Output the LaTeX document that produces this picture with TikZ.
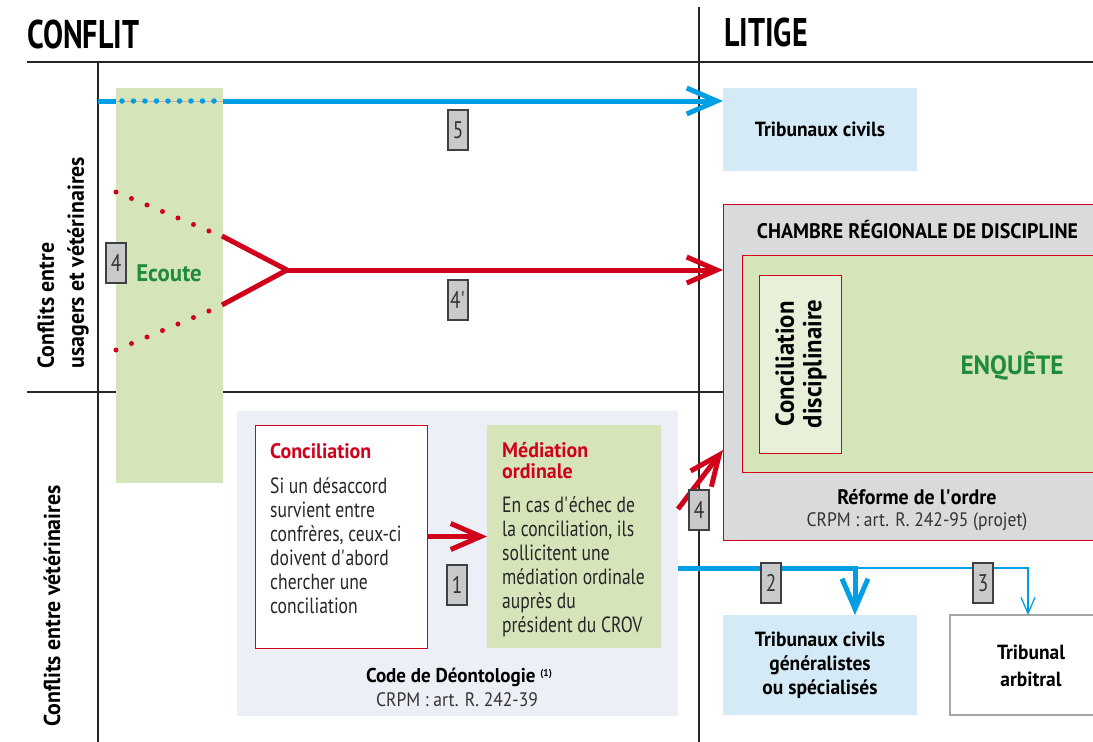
\documentclass[tikz,border=0pt]{standalone}
\usepackage{fontspec}
\setmainfont{PT Sans}[FakeStretch=0.8]
\newfontfamily\headfont{PT Sans}[FakeStretch=0.75]
\newfontfamily\bfam{PT Sans}[FakeStretch=0.95]
\newfontfamily\crpmfont{PT Sans}[FakeStretch=0.9]
\usetikzlibrary{arrows.meta}
\definecolor{cred}{HTML}{D0021B}
\definecolor{cblue}{HTML}{009FE3}
\definecolor{cgreen}{HTML}{D6E4BA}
\definecolor{lgreen}{HTML}{E9F0DA}
\definecolor{tgreen}{HTML}{1E8C3A}
\definecolor{lblue}{HTML}{D4EAF7}
\definecolor{cgray}{HTML}{D9DADC}
\definecolor{bgray}{HTML}{ECEFF6}
\definecolor{ngray}{HTML}{C8C9CB}
\definecolor{salmon}{HTML}{E6A58C}
\tikzset{
  rule/.style={line width=1.6pt, draw=black!85},
  boxx/.style={inner sep=0pt, outer sep=0pt},
  numbox/.style={draw=black!75, line width=1.2pt, fill=ngray, minimum width=20pt, minimum height=40pt, inner sep=0pt, font=\fontsize{24}{24}\selectfont, text=black!80},
  redarr/.style={draw=cred, line width=5pt, -{Straight Barb[length=30pt,width=26pt]}},
  redline/.style={draw=cred, line width=5pt, miter limit=20},
  bluearr/.style={draw=cblue, line width=5pt, -{Straight Barb[length=30pt,width=26pt]}},
  thinblue/.style={draw=cblue, line width=1.3pt, -{Straight Barb[length=16pt,width=14pt]}},
  reddots/.style={draw=cred, line width=5pt, line cap=round, dash pattern=on 0pt off 16.8pt},
  bluedots/.style={draw=cblue, line width=5.5pt, line cap=round, dash pattern=on 0pt off 11.5pt},
  headtxt/.style={font=\headfont\fontsize{40}{40}\selectfont\bfseries},
  sidetxt/.style={font=\bfam\fontsize{23}{30}\selectfont\bfseries, rotate=90},
  btxt/.style={font=\bfam\fontsize{20.5}{24}\selectfont\bfseries, align=center},
  bodytxt/.style={font=\fontsize{22}{24}\selectfont, align=left, text=black!85, inner sep=0pt},
  rtitle/.style={font=\bfam\fontsize{21}{21}\selectfont\bfseries, text=cred, inner sep=0pt},
  crpm/.style={font=\crpmfont\fontsize{19.5}{19.5}\selectfont, text=black!80},
}
\begin{document}
\begin{tikzpicture}[x=1pt,y=-1pt]
\useasboundingbox (0,0) rectangle (1093,742);
\fill[white] (0,0) rectangle (1093,742);

% headers
\node[headtxt, anchor=base west, inner sep=0pt] (conflit) at (27,48) {CONFLIT};
\node[headtxt, anchor=base west, inner sep=0pt] (litige) at (724,46) {LITIGE};

% grid lines
\draw[rule] (27,62) -- (1093,62);
\draw[rule] (98,62) -- (98,742);
\draw[rule] (699,7) -- (699,742);
\draw[rule] (27,392) -- (1093,392);

% side labels
\node[sidetxt, anchor=west, align=left] (side1) at (63,372) {Conflits entre\\usagers et vétérinaires};
\node[sidetxt] (side2) at (52,606) {Conflits entre vétérinaires};

% green column
\node[boxx, fill=cgreen, minimum width=107pt, minimum height=395pt] (col) at (169.5,285.5) {};
\node[font=\bfam\fontsize{24}{24}\selectfont\bfseries, text=tgreen] (ecoute) at (169,273) {Ecoute};

% right boxes
\node[boxx, fill=lblue, minimum width=194pt, minimum height=83pt] (trib1) at (820,129.5) {};
\node[btxt] at (trib1) {Tribunaux civils};

\node[boxx, fill=cgray, draw=cred, line width=1pt, minimum width=372pt, minimum height=336pt] (chambre) at (909,372) {};
\node[font=\bfam\fontsize{21}{21}\selectfont\bfseries] (chtitle) at (917.5,230) {CHAMBRE RÉGIONALE DE DISCIPLINE};
\node[boxx, fill=cgreen, draw=cred, line width=1pt, minimum width=352pt, minimum height=217pt] (enq) at (918,363.5) {};
\node[boxx, fill=lgreen, draw=cred, line width=1pt, minimum width=82pt, minimum height=178pt] (cdisc) at (800,364) {};
\node[font=\bfam\fontsize{26}{27.5}\selectfont\bfseries, rotate=90, align=center] (cdisctxt) at (801,364) {Conciliation\\disciplinaire};
\node[font=\bfam\fontsize{26.5}{26.5}\selectfont\bfseries, text=tgreen] (enqtxt) at (1012,366) {ENQUÊTE};
\node[font=\bfam\fontsize{21}{21}\selectfont\bfseries] (reforme) at (917,497) {Réforme de l\textquotesingle ordre};
\node[crpm] (crpm2) at (917,522) {CRPM : art. R. 242-95 (projet)};

\node[boxx, fill=lblue, minimum width=194pt, minimum height=100pt] (trib2) at (820,665) {};
\node[btxt] at (trib2) {Tribunaux civils\\généralistes\\ou spécialisés};
\node[boxx, fill=white, draw=black!35, line width=1.5pt, minimum width=144pt, minimum height=100pt] (arb) at (1022,665) {};
\node[btxt, font=\bfam\fontsize{20.5}{27}\selectfont\bfseries] at (1031,666) {Tribunal\\arbitral};

% lower left block
\node[boxx, fill=bgray, minimum width=441pt, minimum height=305pt] (bg) at (457.5,563.5) {};
\node[boxx, fill=white, draw=cred, line width=1pt, minimum width=172pt, minimum height=223pt] (conc) at (341,536.5) {};
\node[boxx, fill=cgreen, minimum width=174pt, minimum height=223pt] (med) at (574,536.5) {};
\node[rtitle, anchor=base west] (concT) at (270,458) {Conciliation};
\node[bodytxt, anchor=north west] (concB) at (270,477) {Si un désaccord\\survient entre\\confrères, ceux-ci\\doivent d\textquotesingle abord\\chercher une\\conciliation};
\node[rtitle, anchor=base west] (medT1) at (502,457) {Médiation};
\node[rtitle, anchor=base west] (medT2) at (502,478) {ordinale};
\node[bodytxt, anchor=north west] (medB) at (502,496.5) {En cas d\textquotesingle échec de\\la conciliation, ils\\sollicitent une\\médiation ordinale\\auprès du\\président du CROV};
\node[font=\bfam\fontsize{20}{20}\selectfont\bfseries] (code) at (459,677) {Code de Déontologie \raisebox{6pt}{\fontsize{10}{10}\selectfont (1)}};
\node[crpm] (crpm1) at (457,700) {CRPM : art. R. 242-39};

% blue arrow 5
\coordinate (s5) at (98,101);
\coordinate (c5a) at (116,101);
\coordinate (c5b) at (223,101);
\draw[draw=cblue, line width=5pt] (s5) -- (c5a);
\draw[draw=salmon, line width=0.8pt] (c5a) -- (c5b);
\draw[bluedots] (122,101) -- (c5b);
\draw[bluearr] (c5b) -- (trib1.west |- c5b);

% red fork 4'
\coordinate (fork) at (287,270);
\coordinate (ftop) at (222,236);
\coordinate (fbot) at (222,305);
\draw[reddots] (116,192) -- (209,231);
\draw[reddots] (116,350) -- (209,311);
\draw[redline] (ftop) -- (fork) -- (fbot);
\draw[redarr] (fork) -- (chambre.west |- fork);

% red arrow 4
\coordinate (r4s) at (678,509);
\coordinate (r4t) at (723,450);
\draw[redarr] (r4s) -- (r4t);

% arrow 1
\draw[redarr] (conc.east) -- (med.west);

% blue lower arrows
\coordinate (b0) at (678,568);
\coordinate (b1) at (855,568);
\coordinate (b2) at (1028,568);
\draw[thinblue] (b1) -- (b2) -- (b2 |- arb.north);
\draw[bluearr] (b0) -- (b1) -- (b1 |- trib2.north);

% number boxes
\node[numbox] (n5) at (458,130) {5};
\node[numbox] (n4p) at (458,300) {4\textquotesingle};
\node[numbox] (n4a) at (116,263) {4};
\node[numbox] (n4b) at (699,510) {4};
\node[numbox] (n1) at (457,585) {1};
\node[numbox] (n2) at (771,583) {2};
\node[numbox] (n3) at (983,583) {3};
\end{tikzpicture}
\end{document}
